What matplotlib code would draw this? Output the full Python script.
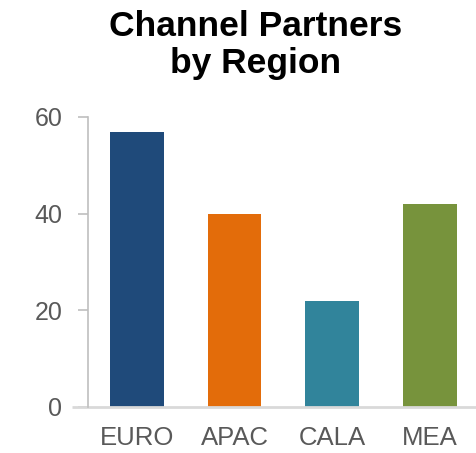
import matplotlib
matplotlib.use("Agg")
import matplotlib.pyplot as plt

regions = ["EURO", "APAC", "CALA", "MEA"]
partners = [57, 40, 22, 42]
bar_colors = ["#1F4A7A", "#E36C0A", "#31849B", "#77933C"]
y_ticks = [0, 20, 40, 60]

plt.rcParams["font.family"] = ["Liberation Sans", "DejaVu Sans"]

fig = plt.figure(figsize=(4.77, 4.53), dpi=100)
ax = fig.add_axes([88 / 477, 1 - 407 / 453, 1 - 88 / 477, (407 - 117) / 453])

ax.bar(range(len(regions)), partners, width=0.55, color=bar_colors)
ax.set_xlim(-0.5, 3.48)
ax.set_ylim(0, 60)
ax.set_yticks(y_ticks)
ax.set_xticks(range(len(regions)))
ax.set_xticklabels(regions)

for side in ["top", "right", "bottom"]:
    ax.spines[side].set_visible(False)
ax.spines["left"].set_color("#BFBFBF")
ax.spines["left"].set_linewidth(1.2)

# baseline runs a bit past the y axis, like the original
ax.plot([-0.04, 1], [0, 0], transform=ax.get_yaxis_transform(),
        color="#D9D9D9", lw=2, clip_on=False, solid_capstyle="butt")

ax.tick_params(axis="y", direction="out", length=7.5, width=1.2,
               color="#BFBFBF", labelcolor="#595959", labelsize=18, pad=11)
ax.tick_params(axis="x", length=0, labelcolor="#595959", labelsize=18.5, pad=14)

fig.text(256 / 477, 1 - 10 / 453, "Channel Partners\nby Region", ha="center", va="top",
         fontsize=25.5, fontweight="bold", color="black", linespacing=1.16)

fig.savefig("out.png", dpi=100)
